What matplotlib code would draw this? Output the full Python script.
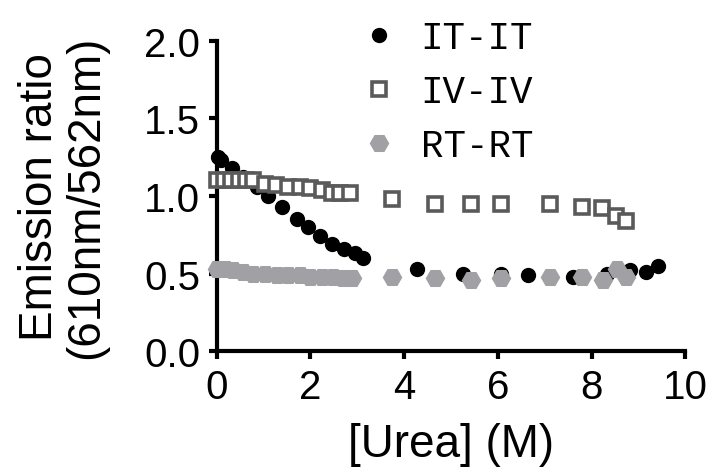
import matplotlib
matplotlib.use('Agg')
import matplotlib.pyplot as plt

# IT-IT (black circles)
it_x = [0.02, 0.10, 0.32, 0.55, 0.85, 1.09, 1.39, 1.71, 1.94, 2.20, 2.46, 2.71, 2.95, 3.12,
        4.27, 5.26, 6.07, 6.65, 7.61, 8.33, 8.82, 9.17, 9.42]
it_y = [1.25, 1.23, 1.18, 1.12, 1.06, 1.00, 0.93, 0.85, 0.80, 0.74, 0.69, 0.66, 0.63, 0.60,
        0.53, 0.50, 0.50, 0.49, 0.48, 0.50, 0.52, 0.51, 0.55]

# IV-IV (open squares)
iv_x = [0.00, 0.15, 0.31, 0.47, 0.63, 0.77, 1.02, 1.27, 1.52, 1.77, 2.00, 2.24, 2.45, 2.63, 2.84,
        3.74, 4.66, 5.43, 6.07, 7.12, 7.80, 8.23, 8.53, 8.74]
iv_y = [1.10, 1.10, 1.10, 1.10, 1.10, 1.10, 1.08, 1.07, 1.06, 1.06, 1.05, 1.04, 1.02, 1.02, 1.02,
        0.98, 0.95, 0.95, 0.95, 0.95, 0.93, 0.92, 0.87, 0.84]

# RT-RT (grey hexagons)
rt_x = [0.00, 0.17, 0.35, 0.56, 0.78, 1.03, 1.28, 1.52, 1.77, 1.99, 2.24, 2.49, 2.70, 2.88,
        3.74, 4.66, 5.43, 6.07, 7.12, 7.80, 8.25, 8.55, 8.74]
rt_y = [0.53, 0.53, 0.52, 0.51, 0.50, 0.50, 0.49, 0.49, 0.49, 0.48, 0.48, 0.48, 0.47, 0.47,
        0.48, 0.47, 0.46, 0.47, 0.48, 0.48, 0.46, 0.53, 0.48]

x_ticks = [0, 2, 4, 6, 8, 10]
y_ticks = [0.0, 0.5, 1.0, 1.5, 2.0]

plt.rcParams['font.family'] = ['Liberation Sans', 'DejaVu Sans']

fig = plt.figure(figsize=(7.13, 4.77), dpi=100)
ax = fig.add_axes([0.304, 0.262, 0.657, 0.650])

ax.plot(it_x, it_y, 'o', color='black', markersize=10, clip_on=False, label='IT-IT', zorder=3)
ax.plot(iv_x, iv_y, 's', markerfacecolor='white', markeredgecolor='#5a5a5a', markeredgewidth=2.6,
        markersize=10, clip_on=False, label='IV-IV', zorder=4)
ax.plot(rt_x, rt_y, 'H', color='#a0a0a5', markersize=13, clip_on=False, label='RT-RT', zorder=5)

ax.set_xlim(0, 10)
ax.set_ylim(0, 2)
ax.set_xticks(x_ticks)
ax.set_yticks(y_ticks)
ax.set_yticklabels(['%.1f' % v for v in y_ticks])

for s in ['top', 'right']:
    ax.spines[s].set_visible(False)
for s in ['left', 'bottom']:
    ax.spines[s].set_linewidth(3)
ax.tick_params(width=3, length=6, labelsize=29, pad=6)

ax.set_xlabel('[Urea] (M)', fontsize=33, labelpad=12)
ax.set_ylabel('Emission ratio\n(610nm/562nm)', fontsize=33, linespacing=1.05, labelpad=26)

ax.legend(loc='upper left', bbox_to_anchor=(0.275, 1.115), frameon=False,
          prop={'family': 'Liberation Mono', 'size': 27},
          handlelength=1.0, handletextpad=0.6, labelspacing=0.48, borderaxespad=0)

fig.savefig('out.png', dpi=100)
